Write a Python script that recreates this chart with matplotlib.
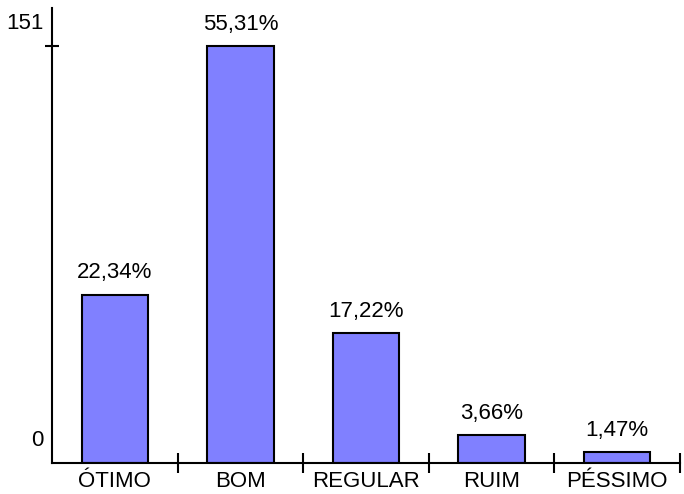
import matplotlib.pyplot as plt
import numpy as np

plt.rcParams['font.family'] = ['Liberation Sans', 'DejaVu Sans']

# data (counts, total 273)
categories = ['ÓTIMO', 'BOM', 'REGULAR', 'RUIM', 'PÉSSIMO']
counts = [61, 151, 47, 10, 4]
percent_labels = ['22,34%', '55,31%', '17,22%', '3,66%', '1,47%']
y_ticks = [0, 151]

fig = plt.figure(figsize=(6.84, 4.94), dpi=100)
ax = fig.add_axes([52 / 684, 1 - 463 / 494, 628 / 684, 455 / 494])

x = np.arange(len(categories))
bars = ax.bar(x, counts, width=0.53, color='#8080ff', edgecolor='black', linewidth=1.5)

ax.set_xlim(-0.5, len(categories) - 0.5)
ax.set_ylim(0, 164.8)

# spines
for side in ['top', 'right']:
    ax.spines[side].set_visible(False)
for side in ['left', 'bottom']:
    ax.spines[side].set_linewidth(1.5)

# ticks: category boundaries on x (not at the corner), only 151 marked on y
ax.set_xticks(np.arange(1, len(categories) + 1) - 0.5)
ax.set_xticklabels([])
ax.tick_params(axis='x', direction='inout', length=15, width=1.5)
ax.set_yticks([151])
ax.set_yticklabels([])
ax.tick_params(axis='y', direction='inout', length=10, width=1.5)

# y labels sit a bit above their ticks
for v in y_ticks:
    ax.annotate(str(v), xy=(0, v), xycoords=('axes fraction', 'data'),
                xytext=(-6, 16.5), textcoords='offset points',
                ha='right', va='center', fontsize=16)

# category labels
for i, name in enumerate(categories):
    ax.annotate(name, xy=(i, 0), xycoords='data', xytext=(0, -13),
                textcoords='offset points', ha='center', va='center',
                fontsize=16, annotation_clip=False)

# percentage labels above bars
for b, lab in zip(bars, percent_labels):
    ax.annotate(lab, xy=(b.get_x() + b.get_width() / 2, b.get_height()),
                xytext=(0, 8), textcoords='offset points',
                ha='center', va='bottom', fontsize=16)

plt.savefig('out.png', dpi=100)
